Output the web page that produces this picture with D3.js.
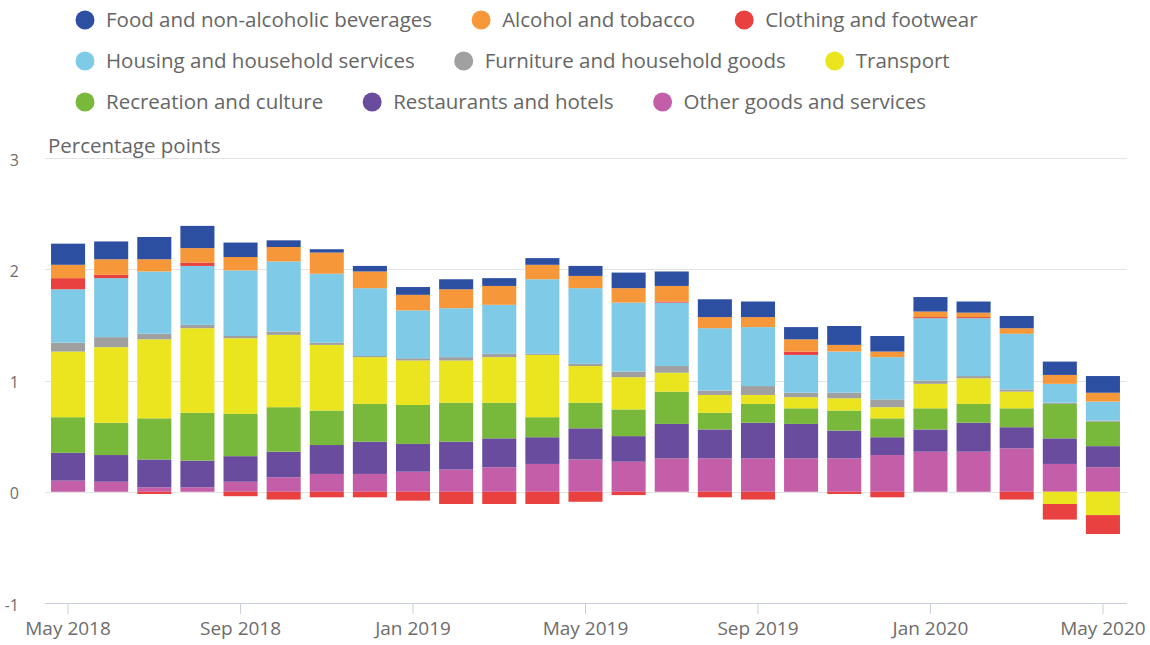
<!DOCTYPE html>
<html>
<head>
<meta charset="utf-8"/>
<script src="https://d3js.org/d3.v7.min.js"></script>
<style>
body { margin: 0; background: #fff; }
text { font-family: "Open Sans", sans-serif; }
.grid line { stroke: #e3e3e3; stroke-width: 1; }
</style>
</head>
<body>
<svg id="svg" width="1150" height="645"></svg>
<script>

// months shown on the x axis (one bar each)
var months = ["May 2018","Jun 2018","Jul 2018","Aug 2018","Sep 2018","Oct 2018","Nov 2018","Dec 2018",
  "Jan 2019","Feb 2019","Mar 2019","Apr 2019","May 2019","Jun 2019","Jul 2019","Aug 2019","Sep 2019",
  "Oct 2019","Nov 2019","Dec 2019","Jan 2020","Feb 2020","Mar 2020","Apr 2020","May 2020"];
var tickMonths = ["May 2018","Sep 2018","Jan 2019","May 2019","Sep 2019","Jan 2020","May 2020"];
var yTicks = [-1, 0, 1, 2, 3];

var seriesNames = ["Food and non-alcoholic beverages","Alcohol and tobacco","Clothing and footwear",
  "Housing and household services","Furniture and household goods","Transport",
  "Recreation and culture","Restaurants and hotels","Other goods and services"];
var seriesColors = ["#2d4fa2","#f6983a","#e8413f","#7fcbe7","#a0a0a0","#ebe51f","#78b83b","#6a4c9e","#c45ea8"];

// contributions, percentage points
var food =        [0.19,0.16,0.20,0.20,0.13,0.06,0.03,0.05,0.07,0.09,0.07,0.06,0.09,0.14,0.13,0.16,0.14,0.11,0.17,0.14,0.13,0.10,0.11,0.12,0.15];
var alcohol =     [0.12,0.14,0.11,0.13,0.12,0.13,0.19,0.15,0.14,0.17,0.17,0.13,0.11,0.13,0.14,0.10,0.09,0.11,0.06,0.05,0.05,0.04,0.05,0.08,0.08];
var clothing =    [0.10,0.03,-0.02,0.03,-0.04,-0.07,-0.05,-0.05,-0.08,-0.11,-0.11,-0.11,-0.09,-0.03,0.01,-0.05,-0.07,0.03,-0.02,-0.05,0.01,0.01,-0.07,-0.14,-0.17];
var housing =     [0.48,0.53,0.56,0.53,0.59,0.63,0.62,0.61,0.43,0.44,0.44,0.67,0.68,0.62,0.57,0.56,0.53,0.34,0.37,0.38,0.56,0.52,0.50,0.17,0.17];
var furniture =   [0.08,0.09,0.05,0.03,0.02,0.03,0.02,0.01,0.02,0.03,0.03,0.01,0.02,0.05,0.06,0.04,0.08,0.04,0.05,0.07,0.03,0.02,0.02,0.01,0.01];
var transport =   [0.59,0.68,0.71,0.76,0.68,0.65,0.59,0.42,0.40,0.38,0.41,0.56,0.33,0.29,0.17,0.16,0.08,0.10,0.11,0.10,0.22,0.23,0.15,-0.11,-0.21];
var recreation =  [0.32,0.29,0.37,0.43,0.38,0.40,0.31,0.34,0.35,0.35,0.32,0.18,0.23,0.24,0.29,0.15,0.17,0.14,0.18,0.17,0.19,0.17,0.17,0.31,0.22];
var restaurants = [0.25,0.24,0.25,0.24,0.23,0.23,0.26,0.29,0.25,0.25,0.26,0.24,0.28,0.23,0.31,0.26,0.32,0.31,0.25,0.16,0.20,0.26,0.19,0.23,0.19];
var other =       [0.10,0.09,0.04,0.04,0.09,0.13,0.16,0.16,0.18,0.20,0.22,0.25,0.29,0.27,0.30,0.30,0.30,0.30,0.30,0.33,0.36,0.36,0.39,0.25,0.22];

var seriesValues = [food, alcohol, clothing, housing, furniture, transport, recreation, restaurants, other];

// table for d3.stack
var table = months.map(function(m, i) {
  var row = { month: m };
  seriesNames.forEach(function(s, k) { row[s] = seriesValues[k][i]; });
  return row;
});

var svg = d3.select("#svg");

var x = d3.scaleBand().domain(months).range([46.5, 1124.5]).paddingInner(0.21).paddingOuter(0.105);
var y = d3.scaleLinear().domain([-1, 3]).range([603, 158]);
var color = d3.scaleOrdinal().domain(seriesNames).range(seriesColors);

// gridlines
svg.append("g").attr("class", "grid")
  .selectAll("line").data(yTicks.filter(function(d){ return d > -1; }))
  .enter().append("line")
  .attr("x1", 45).attr("x2", 1127)
  .attr("y1", function(d){ return Math.round(y(d)) + 0.5; })
  .attr("y2", function(d){ return Math.round(y(d)) + 0.5; });

// y labels
svg.append("g").selectAll("text").data(yTicks).enter().append("text")
  .attr("x", 19).attr("y", function(d){ return y(d) + 2; })
  .attr("dy", "0.35em")
  .attr("text-anchor", "end")
  .style("font-size", "16px").style("fill", "#6d6d6d")
  .text(function(d){ return d; });

svg.append("text").attr("x", 48).attr("y", 153)
  .style("font-size", "20.5px").style("fill", "#666")
  .text("Percentage points");

// stacked bars, last series at the bottom
var stackKeys = seriesNames.slice().reverse();
var stacked = d3.stack().keys(stackKeys).offset(d3.stackOffsetDiverging)(table);

svg.append("g").selectAll("g").data(stacked).enter().append("g")
  .attr("fill", function(d){ return color(d.key); })
  .selectAll("rect").data(function(d){ return d; }).enter().append("rect")
  .attr("x", function(d){ return x(d.data.month); })
  .attr("width", x.bandwidth())
  .attr("y", function(d){ return y(Math.max(d[0], d[1])); })
  .attr("height", function(d){ return Math.abs(y(d[0]) - y(d[1])); });

// x axis
var xAxis = d3.axisBottom(x).tickValues(tickMonths).tickSize(11).tickPadding(8);
var xAxisG = svg.append("g").attr("transform", "translate(0,603)").call(xAxis);
xAxisG.select(".domain").attr("d", "M45,0.5H1127").attr("stroke", "#c9cedc");
xAxisG.selectAll(".tick line").attr("stroke", "#c9cedc");
xAxisG.selectAll(".tick text")
  .style("font-family", "'Open Sans', sans-serif")
  .style("font-size", "19px").style("fill", "#6d6d6d");

// legend, three rows
var legendRows = [[0,1,2],[3,4,5],[6,7,8]];
var legend = svg.append("g");
legendRows.forEach(function(row, r) {
  var cx = 85;
  row.forEach(function(k) {
    var item = legend.append("g").attr("transform", "translate(" + cx + "," + (20 + r * 41) + ")");
    item.append("circle").attr("r", 9.5).attr("fill", seriesColors[k]);
    var t = item.append("text").attr("x", 21).attr("dy", "0.35em")
      .style("font-size", "20.5px").style("fill", "#666")
      .text(seriesNames[k]);
    cx += 21 + t.node().getComputedTextLength() + 49;
  });
});

</script>
</body>
</html>
